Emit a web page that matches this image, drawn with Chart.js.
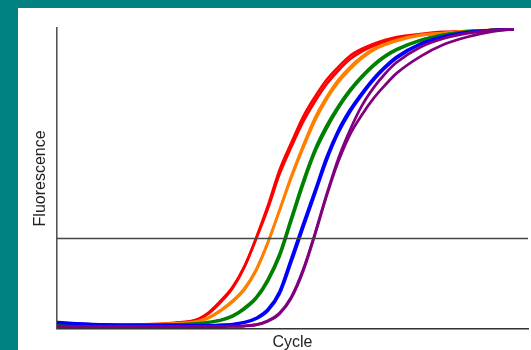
<!DOCTYPE html>
<html>
<head>
<meta charset="utf-8">
<script src="https://cdn.jsdelivr.net/npm/chart.js@4/dist/chart.umd.min.js"></script>
<style>
body{margin:0;background:#008080;width:531px;height:350px;overflow:hidden}
#wrap{position:absolute;left:18px;top:8px;width:513px;height:342px;background:#fff}
</style>
</head>
<body>
<div id="wrap"><canvas id="pcr"></canvas></div>
<script>

const cycles = [1,4,8,11,13,14,15,16,17,18,19,20,21,22,23,24,25,26,27,28,29,30,32,34,36,38,40]

const red1    = [1.3,1.3,1.3,1.8,3.0,5.3,9.0,13.6,20.6,30.2,40.9,52.8,61.8,70.4,77.0,82.7,87.0,90.7,93.0,94.7,96.0,97.0,98.0,98.7,99.0,99.3,99.7]
const red2    = [1.2,1.2,1.4,2.0,3.2,5.6,9.4,14.0,20.8,30.0,40.0,51.5,60.5,68.8,75.5,81.3,85.8,89.6,92.2,94.0,95.4,96.5,97.6,98.4,98.9,99.3,99.7]
const orange1 = [1.3,1.3,1.3,1.7,2.3,3.7,6.0,9.0,13.0,19.3,28.6,39.5,50.8,60.8,70.0,77.0,82.7,87.0,90.4,93.0,94.7,96.0,97.7,98.3,99.0,99.3,99.7]
const orange2 = [1.2,1.3,1.4,1.8,2.5,3.9,6.3,9.4,13.5,19.8,28.8,39.4,50.2,60.0,69.0,76.2,81.9,86.3,89.9,92.6,94.4,95.7,97.5,98.3,99.0,99.3,99.7]
const green1  = [1.3,1.3,1.3,1.4,1.8,2.3,3.0,4.4,7.0,10.5,16.5,25.0,37.0,49.0,59.5,67.5,74.0,79.5,84.0,87.8,90.8,93.0,96.0,97.8,98.8,99.3,99.7]
const green2  = [1.2,1.2,1.3,1.4,1.7,2.1,2.8,4.1,6.5,10.0,15.8,24.0,35.8,47.8,58.5,66.5,73.2,78.8,83.4,87.3,90.4,92.7,95.8,97.7,98.8,99.3,99.7]
const blue1   = [2.2,1.6,1.2,1.2,1.2,1.2,1.3,1.6,2.2,3.6,6.5,12.5,23.5,34.8,45.8,57.0,66.0,72.8,78.3,83.2,87.2,90.5,94.8,97.2,98.6,99.3,99.7]
const blue2   = [2.0,1.5,1.2,1.2,1.1,1.1,1.2,1.5,2.0,3.3,6.0,11.6,22.2,33.5,44.6,55.8,65.0,72.0,77.6,82.6,86.7,90.0,94.5,97.0,98.5,99.2,99.6]
const purple1 = [0.8,0.8,0.8,0.8,0.8,0.8,0.8,0.9,1.0,1.4,2.7,5.3,10.6,19.6,31.5,44.5,56.5,66.0,74.0,80.0,84.8,88.6,93.6,96.5,98.2,99.2,99.7]
const purple2 = [0.7,0.7,0.7,0.7,0.7,0.7,0.7,0.8,0.9,1.3,2.5,5.0,10.2,19.0,31.0,44.0,55.5,64.5,71.0,76.5,81.0,85.0,90.5,94.5,97.0,98.7,99.6]

const thresholdCycles = [1,41.2]
const threshold = [30,30]

/* ---------------- SERIES ---------------- */

const series = [
{values:red1,color:"#ff0000"},
{values:red2,color:"#ff0000"},
{values:orange1,color:"#ff7f00"},
{values:orange2,color:"#ff7f00"},
{values:green1,color:"#008000"},
{values:green2,color:"#008000"},
{values:blue1,color:"#0000ff"},
{values:blue2,color:"#0000ff"},
{values:purple1,color:"#800080"},
{values:purple2,color:"#800080"}
]

const toPoints = (xs,ys) => xs.map((x,i)=>({x:x,y:ys[i]}))

// chart.js paints dataset 0 last, so the list is reversed to keep purple on top
const curveSets = series.map(s=>({
data:toPoints(cycles,s.values),
borderColor:s.color,
borderWidth:2.7,
cubicInterpolationMode:"monotone"
})).reverse()

const datasets = [{
data:toPoints(thresholdCycles,threshold),
borderColor:"#444",
borderWidth:1.5
}].concat(curveSets)

const font = {family:"'Liberation Sans', Arial, sans-serif",size:16}

new Chart(document.getElementById("pcr"),{

type:"line",

data:{datasets:datasets},

options:{
responsive:true,
maintainAspectRatio:false,
animation:false,
layout:{padding:{left:10,right:3,top:20,bottom:0}},
elements:{point:{radius:0}},
plugins:{
legend:{display:false},
tooltip:{enabled:false}
},
scales:{
x:{
type:"linear",
min:1,
max:41.2,
grid:{display:false,drawTicks:false},
ticks:{display:false},
border:{color:"#333",width:1.5},
title:{display:true,text:"Cycle",font:font,color:"#222",padding:{top:4.5,bottom:-2.5}}
},
y:{
min:0,
max:100,
grid:{display:false,drawTicks:false},
ticks:{display:false},
border:{color:"#555",width:1.6},
title:{display:true,text:"Fluorescence",font:font,color:"#222",padding:{top:3.4,bottom:6.4}}
}
}
}

})

</script>
</body>
</html>
